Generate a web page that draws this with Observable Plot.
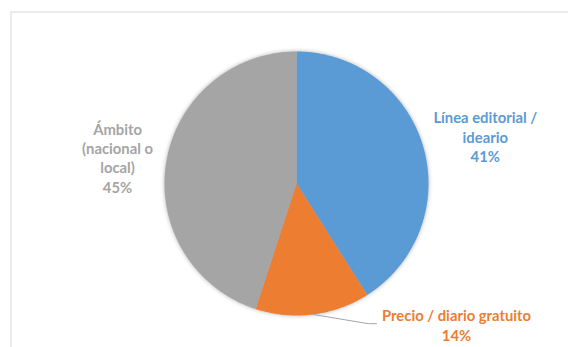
<!DOCTYPE html>
<html>
<head>
<meta charset="utf-8">
<script src="https://cdn.jsdelivr.net/npm/d3@7"></script>
<script src="https://cdn.jsdelivr.net/npm/@observablehq/plot@0.6"></script>
<style>
  html, body { margin: 0; padding: 0; background: #fff; overflow: hidden; }
  #chart svg { display: block; }
</style>
</head>
<body>
<div id="chart"></div>
<script>
// ---- data ----
const categories = ["Línea editorial / ideario", "Precio / diario gratuito", "Ámbito (nacional o local)"];
const values = [41, 14, 45];
const labelLines = [
  ["Línea editorial /", "ideario"],
  ["Precio / diario gratuito"],
  ["Ámbito", "(nacional o", "local)"]
];
const colors = ["#5B9BD5", "#ED7D31", "#A5A5A5"];

// ---- layout (unit-circle coordinates, radius = 1) ----
const labelPos = [[1.43, 0.355], [1.212, -1.07], [-1.356, 0.197]];
const leaderEnd = [[0.545, -1.062], [0.606, -1.062]];

// ---- geometry derived from values ----
const total = d3.sum(values);
let acc = 0;
const slices = values.map((v, i) => {
  const a0 = acc / total * 2 * Math.PI;
  acc += v;
  const a1 = acc / total * 2 * Math.PI;
  return {category: categories[i], value: v, a0, a1, mid: (a0 + a1) / 2};
});
const slicePts = [];
for (const s of slices) {
  slicePts.push({category: s.category, x: 0, y: 0});
  const n = Math.max(2, Math.ceil((s.a1 - s.a0) / (Math.PI / 360)));
  for (let k = 0; k <= n; k++) {
    const a = s.a0 + (s.a1 - s.a0) * k / n;
    slicePts.push({category: s.category, x: Math.sin(a), y: Math.cos(a)});
  }
}
const labels = slices.map((s, i) => ({
  category: s.category,
  x: labelPos[i][0], y: labelPos[i][1],
  text: [...labelLines[i], Math.round(s.value / total * 100) + "%"].join("\n")
}));
const orange = slices[1];
const leader = [
  {x: Math.sin(orange.mid), y: Math.cos(orange.mid)},
  {x: leaderEnd[0][0], y: leaderEnd[0][1]},
  {x: leaderEnd[1][0], y: leaderEnd[1][1]}
];

const chart = Plot.plot({
  width: 568,
  height: 347,
  marginTop: 11.5,
  marginLeft: 10.5,
  marginRight: 0,
  marginBottom: 0,
  style: {background: "#fff", fontFamily: "Lato, sans-serif"},
  x: {domain: [-1, 1], range: [164, 428], axis: null},
  y: {domain: [-1, 1], range: [315, 51], axis: null},
  color: {domain: categories, range: colors, legend: false},
  marks: [
    Plot.frame({anchor: "top", stroke: "#d9d9d9"}),
    Plot.frame({anchor: "left", stroke: "#d9d9d9"}),
    Plot.line(slicePts, {x: "x", y: "y", z: "category", fill: "category", stroke: "none", curve: "linear-closed"}),
    Plot.line(leader, {x: "x", y: "y", stroke: "#a6a6a6", strokeWidth: 1}),
    Plot.text(labels, {x: "x", y: "y", text: "text", fill: "category", fontSize: 14.8, fontWeight: "bold", lineHeight: 1.31, textAnchor: "middle"})
  ]
});
document.getElementById("chart").appendChild(chart);
chart.querySelectorAll("g[aria-label='line']")[0].style.filter = "drop-shadow(0 0 2px rgba(0,0,0,0.3))";
</script>
</body>
</html>
